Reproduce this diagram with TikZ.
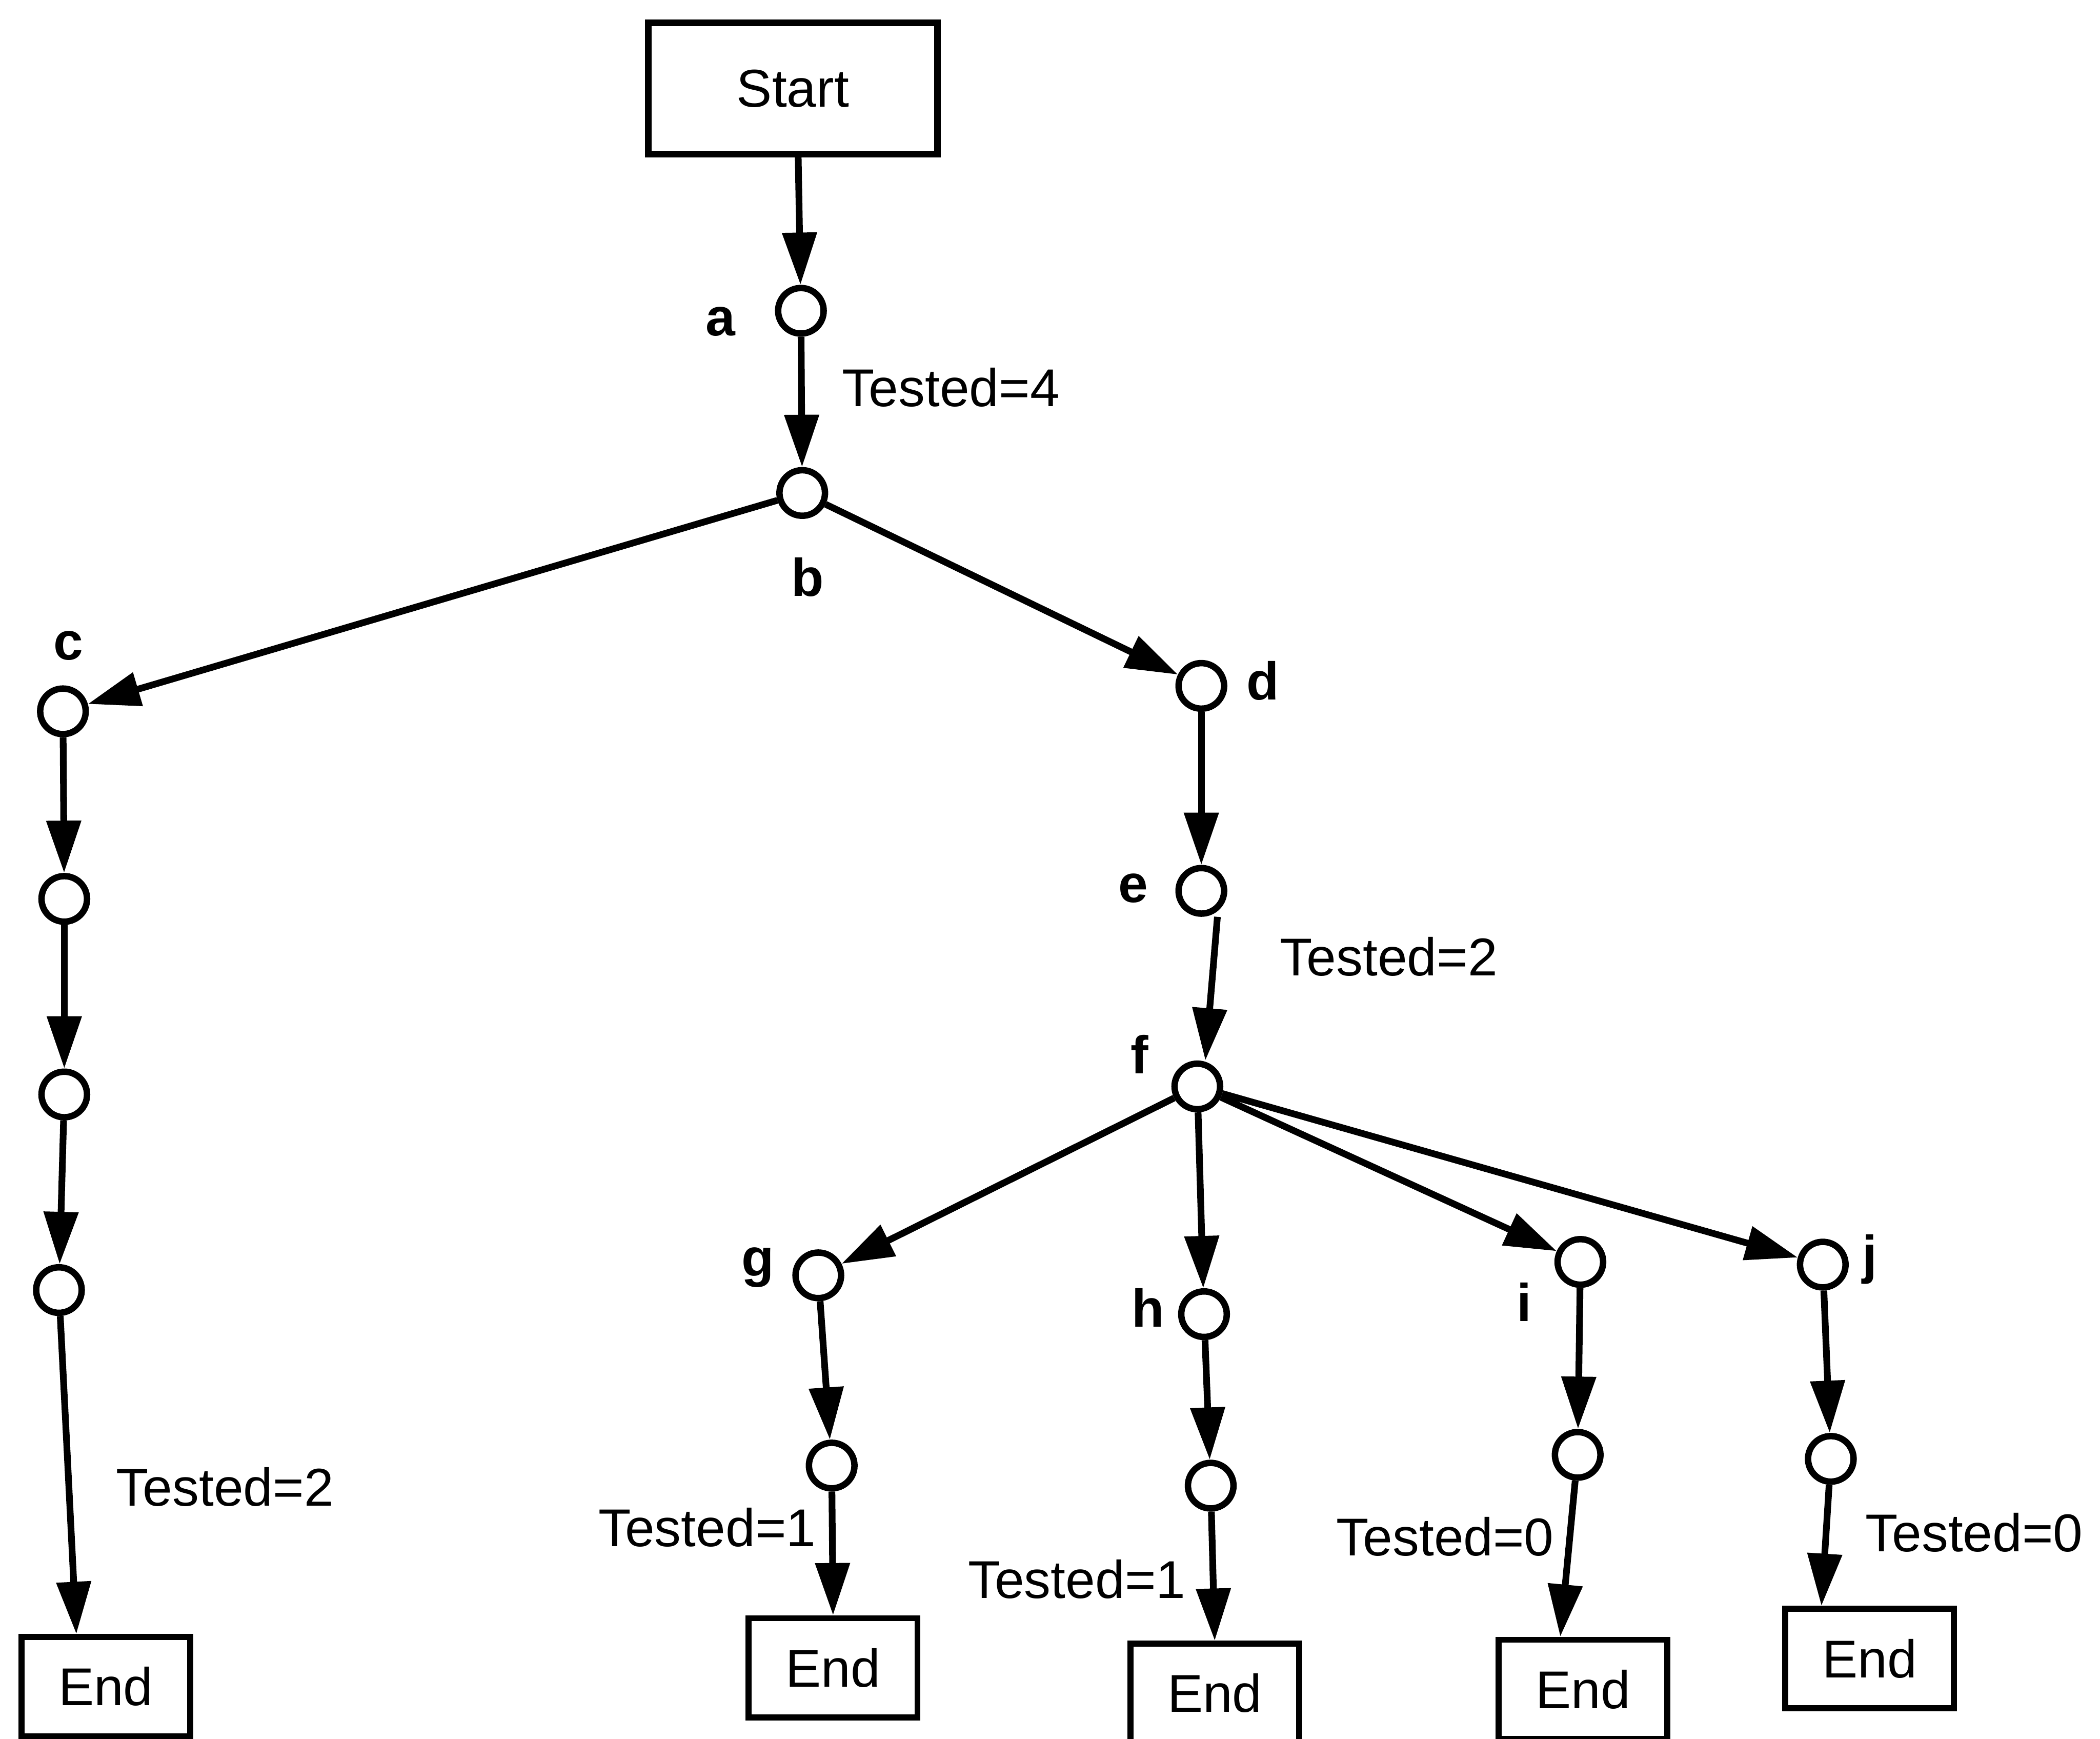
\documentclass[tikz,border=0pt]{standalone}
\usepackage{fontspec}
\setmainfont{Liberation Sans}
\usetikzlibrary{arrows.meta}
\begin{document}
\begin{tikzpicture}[x=0.1mm,y=-0.1mm,
  font=\fontsize{11.3}{13}\selectfont,
  pt/.style={circle,draw,line width=0.48mm,minimum size=3.4mm,inner sep=0pt},
  box/.style={draw,line width=0.45mm,minimum width=12.6mm,minimum height=7.4mm,inner sep=0pt},
  lab/.style={font=\fontsize{11.3}{13}\selectfont\bfseries,inner sep=0pt},
  tl/.style={inner sep=0pt},
  arr/.style={line width=0.5mm,-{Triangle[length=3.9mm,width=2.5mm]}}]
\useasboundingbox (0,0) rectangle (1568,1298);
% nodes
\node[draw,line width=0.5mm,minimum width=21.6mm,minimum height=9.8mm,inner sep=0pt] (start) at (592,66) {Start};
\node[pt] (a) at (598,232) {};
\node[pt] (b) at (599,368) {};
\node[pt] (c) at (47,531) {};
\node[pt] (c2) at (48,671) {};
\node[pt] (c3) at (48,817) {};
\node[pt] (c4) at (44,963) {};
\node[pt] (d) at (897,512) {};
\node[pt] (e) at (897,665) {};
\node[pt] (f) at (894,811) {};
\node[pt] (g) at (611,952) {};
\node[pt] (h) at (899,981) {};
\node[pt] (i) at (1180,942) {};
\node[pt] (j) at (1361,944) {};
\node[pt] (g2) at (621,1094) {};
\node[pt] (h2) at (904,1109) {};
\node[pt] (i2) at (1178,1086) {};
\node[pt] (j2) at (1367,1089) {};
\node[box] (endc) at (79,1259) {End};
\node[box] (endg) at (622,1245) {End};
\node[box] (endh) at (907,1264) {End};
\node[box] (endi) at (1182,1261) {End};
\node[box] (endj) at (1396,1238) {End};
% letter labels
\node[lab] (la) at (538,240) {a};
\node[lab] (lb) at (603,431) {b};
\node[lab] (lc) at (51,482) {c};
\node[lab] (ld) at (943,508) {d};
\node[lab] (le) at (846,663) {e};
\node[lab] (lf) at (851,787) {f};
\node[lab] (lg) at (566,946) {g};
\node[lab] (lh) at (857,976) {h};
\node[lab] (li) at (1138,972) {i};
\node[lab] (lj) at (1396,940) {j};
% edge labels
\node[tl] (t4) at (710,289) {Tested=4};
\node[tl] (t2e) at (1037,714) {Tested=2};
\node[tl] (t2c) at (168,1110) {Tested=2};
\node[tl] (t1g) at (528,1140) {Tested=1};
\node[tl] (t1h) at (804,1179) {Tested=1};
\node[tl] (t0i) at (1079,1147) {Tested=0};
\node[tl] (t0j) at (1474,1144) {Tested=0};
% connectors
\draw[arr] ([xshift=0.4mm]start.south) -- (a);
\draw[arr] (a) -- (b);
\draw[arr] (b) -- (c);
\draw[arr] (b) -- (d);
\draw[arr] (c) -- (c2);
\draw[arr] (c2) -- (c3);
\draw[arr] (c3) -- (c4);
\draw[arr] (c4) -- ([xshift=-2.2mm]endc.north);
\draw[arr] (d) -- (e);
\draw[arr] ([xshift=1.2mm]e.south) -- ([xshift=0.6mm]f.north);
\draw[arr] (f) -- (g);
\draw[arr] (f) -- (h);
\draw[arr] (f) -- (i);
\draw[arr] (f) -- (j);
\draw[arr] (g) -- (g2);
\draw[arr] (h) -- (h2);
\draw[arr] (i) -- (i2);
\draw[arr] (j) -- (j2);
\draw[arr] (g2) -- (endg.north);
\draw[arr] (h2) -- (endh.north);
\draw[arr] (i2) -- ([xshift=-1.7mm]endi.north);
\draw[arr] (j2) -- ([xshift=-3.6mm]endj.north);
\end{tikzpicture}
\end{document}
